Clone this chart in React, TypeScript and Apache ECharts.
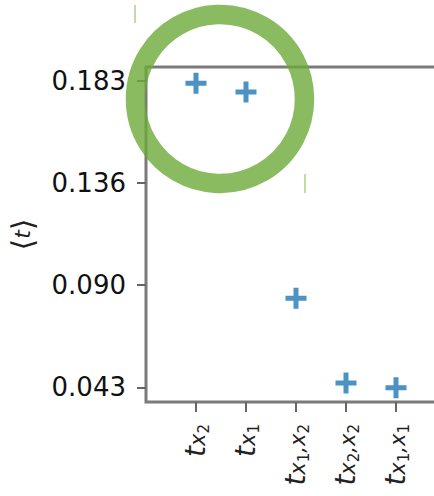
import React, { useEffect, useRef } from "react";
import * as echarts from "echarts";

const categories = ["x2", "x1", "x1,x2", "x2,x2", "x1,x1"];
const xPositions = [1, 2, 3, 4, 5];
const meanValues = [0.1816, 0.1776, 0.0836, 0.045, 0.0428];
const yTicks = [0.043, 0.08953, 0.13606, 0.18259];
const yLabels = ["0.043", "0.090", "0.136", "0.183"];

const fmtLabel = (key: string) =>
  "{t|t}" +
  key
    .split(",")
    .map((p) => `{s|${p[0]}}{n|${p.slice(1)}}`)
    .join("{s|,}");

export default function App() {
  const ref = useRef<HTMLDivElement>(null);
  useEffect(() => {
    if (!ref.current) return;
    const chart = echarts.init(ref.current, null, { renderer: "svg" });
    const axisColor = "#7a7a7a";
    chart.setOption({
      animation: false,
      grid: {
        left: 146,
        top: 67,
        width: 300,
        height: 335,
        outerBoundsMode: "none",
        containLabel: false,
        show: true,
        borderColor: axisColor,
        borderWidth: 3,
        backgroundColor: "transparent",
      },
      xAxis: {
        type: "value",
        min: 0,
        max: 6,
        splitLine: { show: false },
        axisLine: { show: false },
        axisTick: {
          show: true,
          length: 10,
          customValues: xPositions,
          lineStyle: { color: "#666", width: 2 },
        },
        axisLabel: {
          customValues: xPositions,
          rotate: 90,
          margin: 22,
          formatter: (v: number) => fmtLabel(categories[Math.round(v) - 1] ?? ""),
          rich: {
            t: {
              fontFamily: "DejaVu Sans",
              fontStyle: "italic",
              fontSize: 28,
              lineHeight: 30,
              color: "#222",
              verticalAlign: "top",
              padding: [0, 0, 7, 0],
            },
            s: {
              fontFamily: "DejaVu Sans",
              fontStyle: "italic",
              fontSize: 21,
              lineHeight: 21,
              color: "#222",
              verticalAlign: "bottom",
              padding: [0, 0, 3, 0],
            },
            n: {
              fontFamily: "DejaVu Sans",
              fontSize: 15,
              lineHeight: 15,
              color: "#222",
              verticalAlign: "bottom",
            },
          },
        },
      },
      yAxis: {
        type: "value",
        min: 0.0363,
        max: 0.18898,
        splitLine: { show: false },
        axisLine: { show: false },
        axisTick: {
          show: true,
          length: 9,
          customValues: yTicks,
          lineStyle: { color: "#666", width: 2 },
        },
        axisLabel: {
          customValues: yTicks,
          margin: 20,
          fontFamily: "DejaVu Sans",
          fontSize: 26,
          color: "#111",
          formatter: (v: number) => {
            const i = yTicks.findIndex((t) => Math.abs(t - v) < 1e-6);
            return i >= 0 ? yLabels[i] : v.toFixed(3);
          },
        },
        name: "{b|⟨}{t|t}{b|⟩}",
        nameLocation: "middle",
        nameRotate: 90,
        nameGap: 109,
        nameTextStyle: {
          rich: {
            b: { fontFamily: "DejaVu Sans", fontSize: 30, color: "#222" },
            t: {
              fontFamily: "DejaVu Sans",
              fontStyle: "italic",
              fontSize: 22,
              color: "#222",
            },
          },
        },
      },
      series: [
        {
          type: "scatter",
          data: xPositions.map((x, i) => [x, meanValues[i]]),
          symbol: "path://M8,0H13V8H21V13H13V21H8V13H0V8H8Z",
          symbolSize: 21,
          itemStyle: { color: "#1f77b4" },
        },
      ],
      graphic: [
        {
          type: "circle",
          z: 100,
          shape: { cx: 220, cy: 99, r: 84.5 },
          style: { fill: "none", stroke: "rgb(109,170,56)", lineWidth: 19.5, opacity: 0.8 },
        },
        {
          type: "line",
          z: 100,
          shape: { x1: 135, y1: 5, x2: 135, y2: 23 },
          style: { stroke: "rgb(175,212,145)", lineWidth: 1.6 },
        },
        {
          type: "line",
          z: 100,
          shape: { x1: 305, y1: 174, x2: 305, y2: 193 },
          style: { stroke: "rgb(175,212,145)", lineWidth: 1.6 },
        },
      ],
    });
    return () => chart.dispose();
  }, []);
  return (
    <div
      ref={ref}
      style={{ position: "fixed", left: 0, top: 0, width: 434, height: 496, background: "#fff" }}
    />
  );
}
